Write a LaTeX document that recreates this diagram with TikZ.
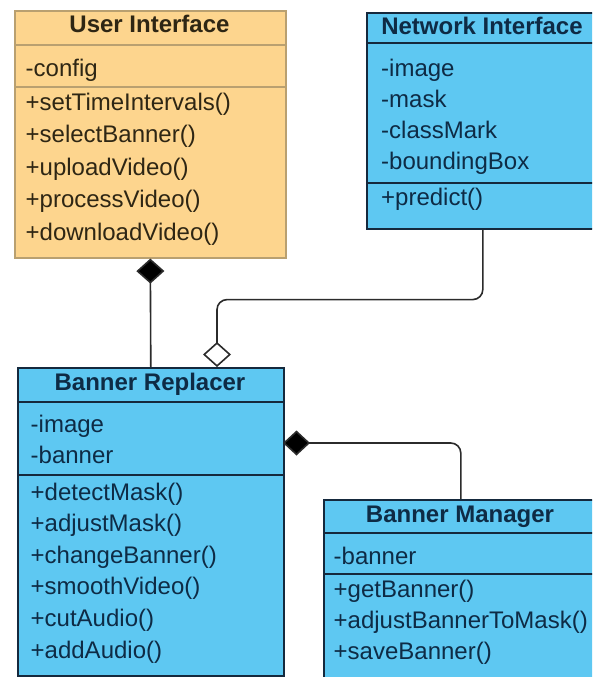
\documentclass[tikz,border=0pt]{standalone}
\usepackage{fontspec}
\setmainfont{Liberation Sans}
\usetikzlibrary{arrows.meta}

\definecolor{uifill}{HTML}{FDD58E}
\definecolor{uiline}{HTML}{B9A070}
\definecolor{uitext}{HTML}{2E2614}
\definecolor{clsfill}{HTML}{5EC8F2}
\definecolor{clsline}{HTML}{15293D}
\definecolor{clstext}{HTML}{0E2B45}
\definecolor{wire}{HTML}{2B2B2B}

\tikzset{
  box/.style={draw, rectangle, inner sep=0pt, anchor=north west, line width=1.6pt},
  orangebox/.style={box, fill=uifill, draw=uiline},
  bluebox/.style={box, fill=clsfill, draw=clsline},
  uisep/.style={draw=uiline, line width=1.2pt},
  clssep/.style={draw=clsline, line width=1.6pt},
  member/.style={anchor=base west, inner sep=0pt, font=\fontsize{24}{28}\selectfont},
  classtitle/.style={anchor=base, inner sep=0pt, font=\bfseries\fontsize{24}{28}\selectfont},
  wireline/.style={draw=wire, line width=1.6pt, rounded corners=10pt},
}

% one text line per member: prefix, colour, x, first baseline, step, list
\newcommand\memberrows[6]{%
  \foreach \t [count=\i] in {#6} {%
    \node[member, text=#2] (#1\i) at (#3, {#4+(\i-1)*#5}) {\t};
  }%
}

\begin{document}
\begin{tikzpicture}[x=1pt, y=-1pt]
\useasboundingbox (0,0) rectangle (592,677);
\fill[white] (0,0) rectangle (592,677);
\clip (0,0) rectangle (592,677);

% ---- User Interface ----
\node[orangebox, minimum width=271pt, minimum height=247pt] (ui) at (14,10) {};
\path[uisep] (14,45) -- (285,45) (14,87) -- (285,87);
\node[classtitle, text=uitext] (uiname) at (149.5,33) {User Interface};
\memberrows{uiattr}{uitext}{25.5}{76}{32}{-config}
\memberrows{uiop}{uitext}{25.5}{110}{32.5}{+setTimeIntervals(),+selectBanner(),+uploadVideo(),+processVideo(),+downloadVideo()}

% ---- Network Interface ----
\node[bluebox, minimum width=232pt, minimum height=216pt] (ni) at (366,12) {};
\path[clssep] (366,43) -- (598,43) (366,183) -- (598,183);
\node[classtitle, text=clstext] (niname) at (482,35) {Network Interface};
\memberrows{niattr}{clstext}{381}{76}{31.3}{-image,-mask,-classMark,-boundingBox}
\memberrows{niop}{clstext}{381}{205}{31.3}{+predict()}

% ---- Banner Replacer ----
\node[bluebox, minimum width=266pt, minimum height=308pt] (br) at (17,367) {};
\path[clssep] (17,402) -- (283,402) (17,475) -- (283,475);
\node[classtitle, text=clstext] (brname) at (150,390) {Banner Replacer};
\memberrows{brattr}{clstext}{30.5}{432}{31}{-image,-banner}
\memberrows{brop}{clstext}{30.5}{500}{31.6}{+detectMask(),+adjustMask(),+changeBanner(),+smoothVideo(),+cutAudio(),+addAudio()}

% ---- Banner Manager ----
\node[bluebox, minimum width=274pt, minimum height=200pt] (bm) at (323,499) {};
\path[clssep] (323,533) -- (597,533) (323,574) -- (597,574);
\node[classtitle, text=clstext] (bmname) at (460,522) {Banner Manager};
\memberrows{bmattr}{clstext}{333.5}{564}{31}{-banner}
\memberrows{bmop}{clstext}{333.5}{597}{31}{+getBanner(),+adjustBannerToMask(),+saveBanner()}

% ---- relations ----
\coordinate (aggend) at (217,367);
\coordinate (brside) at (283,443);

% composition: User Interface owns Banner Replacer
\draw[wireline, -{Diamond[length=25pt, width=28pt, fill=black]}] (br.north) -- (ui.south);
% aggregation: Banner Replacer uses Network Interface
\draw[wireline, -{Diamond[length=25pt, width=28pt, fill=white]}] (ni.south) -- ++(0,70) -| (aggend);
% composition: Banner Replacer owns Banner Manager
\draw[wireline, -{Diamond[length=27pt, width=25pt, fill=black]}] (bm.north) |- (brside);
\end{tikzpicture}
\end{document}
